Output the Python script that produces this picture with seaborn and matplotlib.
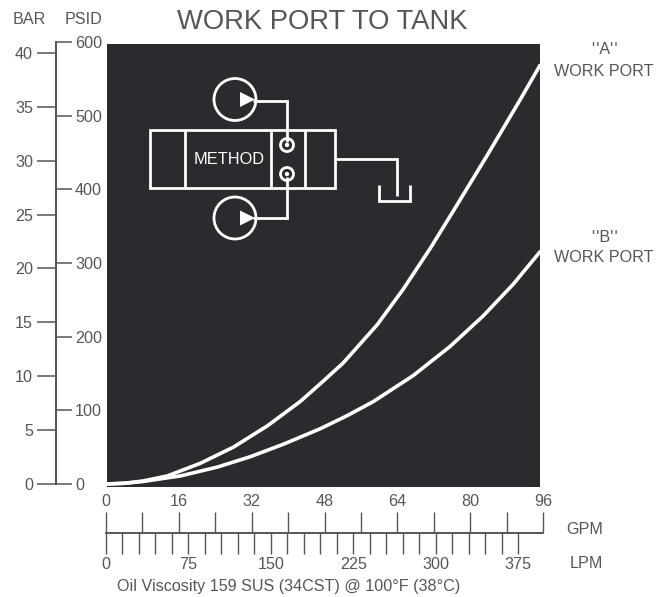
import numpy as np
import pandas as pd
import matplotlib
matplotlib.use("Agg")
import matplotlib.pyplot as plt
from matplotlib.patches import Circle, Polygon, Rectangle
import seaborn as sns

gpm_a = [0, 4, 8, 13.4, 20.6, 27.9, 35.4, 42.6, 47, 52, 59.5, 65.2, 71.2, 76.2, 83.7, 90.9, 95.3]
psid_a = [0, 1, 4, 11, 28, 50, 79, 112, 136, 164, 216, 264, 320, 370, 446, 521, 568]
gpm_b = [0, 4, 8, 16.3, 24.4, 31.6, 38.9, 47, 53, 58.7, 67.4, 75.6, 82.8, 89.4, 95.3]
psid_b = [0, 1, 3.4, 11, 23, 37, 54, 75, 93, 112, 147, 187, 228, 271, 315]

psid_ticks = [0, 100, 200, 300, 400, 500, 600]
bar_ticks = [0, 5, 10, 15, 20, 25, 30, 35, 40]
gpm_ticks = list(range(0, 97, 8))
gpm_labelled = [0, 16, 32, 48, 64, 80, 96]
lpm_ticks = list(range(0, 376, 15))
lpm_labelled = [0, 75, 150, 225, 300, 375]

title = "WORK PORT TO TANK"
footnote = "Oil Viscosity 159 SUS (34CST) @ 100°F (38°C)"

INK = "#55555a"
DARK = "#2b2a2f"
W, H = 668, 597
FS = 11.6

sns.set_theme(style="white")
plt.rcParams["font.family"] = ["Liberation Sans", "DejaVu Sans"]
plt.rcParams["text.color"] = INK

fig = plt.figure(figsize=(W / 100, H / 100), dpi=100, facecolor="white")


def axes_px(l, t, r, b, **kw):
    return fig.add_axes([l / W, 1 - b / H, (r - l) / W, (b - t) / H], **kw)


# main plot
ax = axes_px(106.5, 44, 540, 486.5, facecolor=DARK)
df = pd.concat([
    pd.DataFrame({"GPM": gpm_a, "PSID": psid_a, "port": "A"}),
    pd.DataFrame({"GPM": gpm_b, "PSID": psid_b, "port": "B"}),
])
sns.lineplot(data=df, x="GPM", y="PSID", units="port", estimator=None, sort=False,
             color="white", lw=2.6, ax=ax, legend=False,
             solid_joinstyle="round", solid_capstyle="round")
ax.set_xlim(0, 95.3)
ax.set_ylim(-3.4, 597)
ax.set(xticks=[], yticks=[], xlabel="", ylabel="")
for s in ax.spines.values():
    s.set_visible(False)

# pressure scales
ax_p = axes_px(56, 42, 57, 484, facecolor="none")
ax_p.set_xticks([])
ax_p.set_ylim(0, 600)
ax_p.set_yticks(psid_ticks)
ax_p.yaxis.tick_right()
ax_p.tick_params(axis="y", right=True, length=11, width=1.1, color=INK, labelcolor=INK,
                 labelsize=FS, pad=2)
ax_b = axes_px(56, 42, 57, 484, facecolor="none")
ax_b.set_xticks([])
ax_b.set_ylim(0, 41.02)
ax_b.set_yticks(bar_ticks)
ax_b.tick_params(axis="y", left=True, length=13.5, width=1.1, color=INK, labelcolor=INK,
                 labelsize=FS, pad=3)
for a in (ax_p, ax_b):
    for k, s in a.spines.items():
        s.set_visible(k == "left")
        s.set_color(INK)
        s.set_linewidth(1.3)

# flow scales
ax_g = axes_px(106, 532, 543, 533, facecolor="none")
ax_g.set_yticks([])
ax_g.set_xlim(0, 96)
ax_g.set_xticks(gpm_ticks)
ax_g.set_xticklabels([str(v) if v in gpm_labelled else "" for v in gpm_ticks])
ax_g.xaxis.tick_top()
ax_g.tick_params(axis="x", top=True, length=14.4, width=1.0, color=INK, labelcolor=INK,
                 labelsize=FS, pad=2)
ax_l = axes_px(106, 532, 543, 533, facecolor="none")
ax_l.set_yticks([])
ax_l.set_xlim(0, 397.7)
ax_l.set_xticks(lpm_ticks)
ax_l.set_xticklabels([str(v) if v in lpm_labelled else "" for v in lpm_ticks])
ax_l.tick_params(axis="x", bottom=True, length=15, width=1.0, color=INK, labelcolor=INK,
                 labelsize=FS, pad=2)
for a in (ax_g, ax_l):
    for k, s in a.spines.items():
        s.set_visible(k == "bottom")
        s.set_color(INK)
        s.set_linewidth(1.2)

# page overlay in pixel units: texts and the schematic
ov = axes_px(0, 0, W, H, facecolor="none", zorder=5)
ov.set_xlim(0, W)
ov.set_ylim(H, 0)
ov.axis("off")


def label(x, y, s, size=FS, ha="center", color=INK):
    ov.text(x, y, s, fontsize=size, ha=ha, va="center", color=color)


label(322, 22, title, size=19.7)
label(29, 20, "BAR")
label(84, 20, "PSID")
label(605, 50, "'\u200a'A'\u200a'")
label(604, 72, "WORK PORT")
label(605, 237, "'\u200a'B'\u200a'")
label(604, 258, "WORK PORT")
label(585, 530, "GPM")
label(586, 564, "LPM")
label(288.5, 587, footnote)
label(229.5, 159, "METHOD", size=11.8, color="white")

lw = 2.0
kw = dict(color="white", lw=lw, solid_joinstyle="miter", solid_capstyle="butt")
ov.add_patch(Rectangle((150, 130), 185, 58, fill=False, ec="white", lw=lw))
for x in (185, 271, 305):
    ov.plot([x, x], [130, 188], **kw)
for cy in (99.5, 218):
    ov.add_patch(Circle((235, cy), 21, fill=False, ec="white", lw=lw))
    ov.add_patch(Polygon([(240, cy - 7.5), (240, cy + 7.5), (255, cy)], fc="white", ec="none"))
for cy in (145, 174):
    ov.add_patch(Circle((287, cy), 6.5, fill=False, ec="white", lw=lw))
    ov.add_patch(Circle((287, cy), 2.2, fc="white", ec="none"))
ov.plot([253, 287, 287], [100.5, 100.5, 142], **kw)
ov.plot([287, 287, 253], [177, 218, 218], **kw)
ov.plot([335, 397, 397], [159, 159, 196], **kw)
ov.plot([378.5, 378.5, 409.5, 409.5], [185, 200.5, 200.5, 185], **kw)

fig.savefig("out.png", dpi=100, facecolor="white")
